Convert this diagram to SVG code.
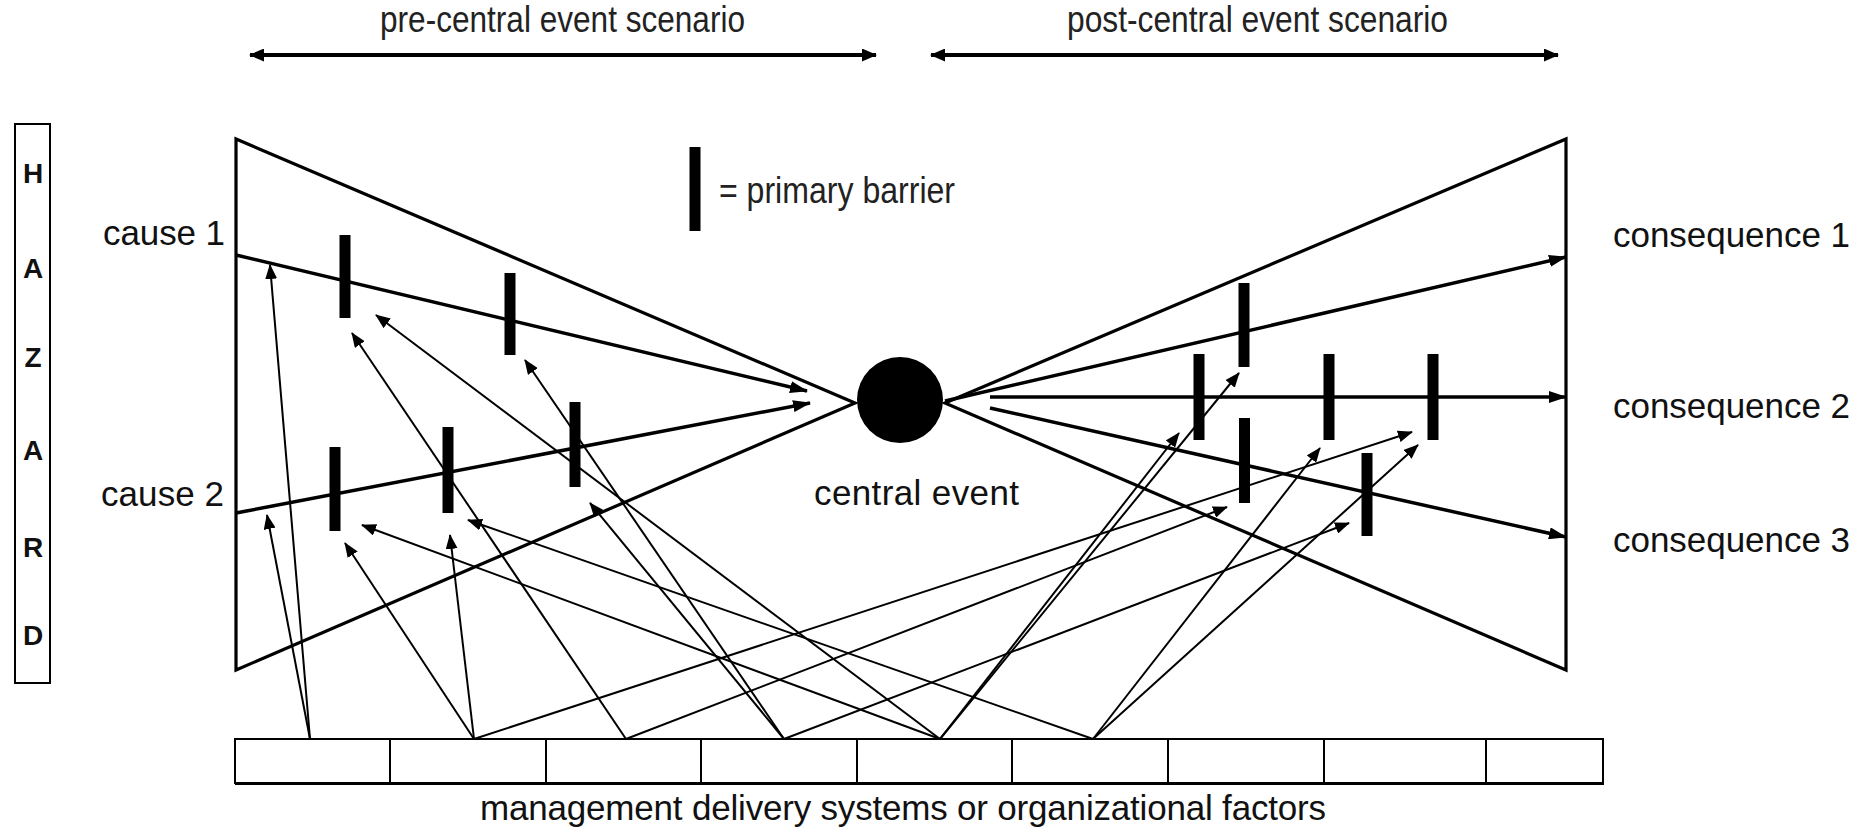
<svg xmlns="http://www.w3.org/2000/svg" width="1870" height="832" viewBox="0 0 1870 832">
<style>
.txt{font-family:"Liberation Sans",Arial,sans-serif;font-size:35px;fill:#111}
.narrow{font-family:"Liberation Sans",Arial,sans-serif;font-size:36px;fill:#222}
.hz{font-family:"Liberation Sans",Arial,sans-serif;font-size:28px;font-weight:bold;fill:#111;text-anchor:middle}
.frame{fill:none;stroke:#000;stroke-width:3.2;stroke-linejoin:miter}
.bar{fill:#000}
.main{stroke:#000;stroke-width:3.5;fill:none;marker-end:url(#ahMain)}
.org{stroke:#000;stroke-width:2;fill:none;marker-end:url(#ahOrg)}
.top{stroke:#000;stroke-width:4;fill:none;marker-start:url(#ahTop);marker-end:url(#ahTop)}
.box{fill:#fff;stroke:#000;stroke-width:2}
</style>
<defs>
<marker id="ahMain" viewBox="0 0 18 12" refX="17" refY="6" markerWidth="18" markerHeight="12" orient="auto" markerUnits="userSpaceOnUse"><path d="M0,0 L18,6 L0,12 z" fill="#000"/></marker>
<marker id="ahOrg" viewBox="0 0 15 12" refX="14" refY="6" markerWidth="15" markerHeight="12" orient="auto" markerUnits="userSpaceOnUse"><path d="M0,0 L15,6 L0,12 z" fill="#000"/></marker>
<marker id="ahTop" viewBox="0 0 15 13" refX="14" refY="6.5" markerWidth="15" markerHeight="13" orient="auto-start-reverse" markerUnits="userSpaceOnUse"><path d="M0,0 L15,6.5 L0,13 z" fill="#000"/></marker>
</defs>

<g id="scenario-labels">
<text class="narrow" x="380" y="32" textLength="365" lengthAdjust="spacingAndGlyphs">pre-central event scenario</text>
<text class="narrow" x="1067" y="32" textLength="381" lengthAdjust="spacingAndGlyphs">post-central event scenario</text>
<line class="top" x1="250" y1="55" x2="876" y2="55"/>
<line class="top" x1="931" y1="55" x2="1558" y2="55"/>
</g>

<g id="hazard">
<rect x="15" y="124" width="35" height="559" fill="#fff" stroke="#000" stroke-width="2"/>
<text class="hz" x="33" y="183">H</text>
<text class="hz" x="33" y="278">A</text>
<text class="hz" x="33" y="367">Z</text>
<text class="hz" x="33" y="460">A</text>
<text class="hz" x="33" y="557">R</text>
<text class="hz" x="33" y="645">D</text>
</g>

<g id="legend">
<rect class="bar" x="689.5" y="147" width="11" height="84"/>
<text class="narrow" x="719" y="203" textLength="236" lengthAdjust="spacingAndGlyphs">= primary barrier</text>
</g>

<g id="pre-bowtie">
<path class="frame" d="M855,403 L236,139 L236,670 Z"/>
</g>
<g id="post-bowtie">
<path class="frame" d="M945,403 L1566,139 L1566,670 Z"/>
</g>

<g id="central-event">
<circle cx="900" cy="400" r="43" fill="#000"/>
<text class="txt" x="814" y="505" textLength="205" lengthAdjust="spacing">central event</text>
</g>

<g id="cause-1"><text class="txt" x="103" y="245" textLength="122" lengthAdjust="spacing">cause 1</text></g>
<g id="cause-2"><text class="txt" x="101" y="506" textLength="123" lengthAdjust="spacing">cause 2</text></g>
<g id="consequence-1"><text class="txt" x="1613" y="247" textLength="237" lengthAdjust="spacing">consequence 1</text></g>
<g id="consequence-2"><text class="txt" x="1613" y="418" textLength="237" lengthAdjust="spacing">consequence 2</text></g>
<g id="consequence-3"><text class="txt" x="1613" y="552" textLength="237" lengthAdjust="spacing">consequence 3</text></g>

<g id="management">
<rect class="box" x="235" y="739" width="1368" height="44"/>
<path d="M390,739V783 M546,739V783 M701,739V783 M857,739V783 M1012,739V783 M1168,739V783 M1324,739V783 M1486,739V783" stroke="#000" stroke-width="2"/>
<line x1="235" y1="784" x2="1604" y2="784" stroke="#000" stroke-width="2"/>
<text class="txt" x="480" y="820" textLength="846" lengthAdjust="spacing">management delivery systems or organizational factors</text>
</g>

<g id="connectors">
<line class="main" x1="236" y1="255" x2="807" y2="391"/>
<line class="main" x1="236" y1="513" x2="810" y2="403"/>
<line class="main" x1="945" y1="401" x2="1566" y2="257"/>
<line class="main" x1="990" y1="397" x2="1566" y2="397"/>
<line class="main" x1="990" y1="408" x2="1566" y2="537"/>

<line class="org" x1="310" y1="739" x2="270" y2="265"/>
<line class="org" x1="310" y1="739" x2="267" y2="515"/>
<line class="org" x1="474" y1="739" x2="345" y2="543"/>
<line class="org" x1="474" y1="739" x2="450" y2="535"/>
<line class="org" x1="474" y1="739" x2="1412" y2="432"/>
<line class="org" x1="626" y1="739" x2="352" y2="333"/>
<line class="org" x1="626" y1="739" x2="1227" y2="507"/>
<line class="org" x1="784" y1="739" x2="525" y2="360"/>
<line class="org" x1="784" y1="739" x2="590" y2="503"/>
<line class="org" x1="784" y1="739" x2="1349" y2="523"/>
<line class="org" x1="940" y1="739" x2="376" y2="315"/>
<line class="org" x1="940" y1="739" x2="362" y2="525"/>
<line class="org" x1="940" y1="739" x2="1179" y2="433"/>
<line class="org" x1="940" y1="739" x2="1239" y2="373"/>
<line class="org" x1="1093" y1="739" x2="468" y2="520"/>
<line class="org" x1="1093" y1="739" x2="1320" y2="448"/>
<line class="org" x1="1093" y1="739" x2="1418" y2="445"/>
</g>

<g id="barriers">
<rect class="bar" x="339.5" y="235" width="11" height="83"/>
<rect class="bar" x="504.5" y="273" width="11" height="82"/>
<rect class="bar" x="569.5" y="402" width="11" height="85"/>
<rect class="bar" x="329.5" y="447" width="11" height="84"/>
<rect class="bar" x="442.5" y="427" width="11" height="86"/>
<rect class="bar" x="1238.5" y="283" width="11" height="84"/>
<rect class="bar" x="1193.5" y="354" width="11" height="86"/>
<rect class="bar" x="1323.5" y="354" width="11" height="86"/>
<rect class="bar" x="1427.5" y="354" width="11" height="86"/>
<rect class="bar" x="1239" y="418" width="11" height="85"/>
<rect class="bar" x="1361.5" y="453" width="11" height="83"/>
</g>
</svg>
